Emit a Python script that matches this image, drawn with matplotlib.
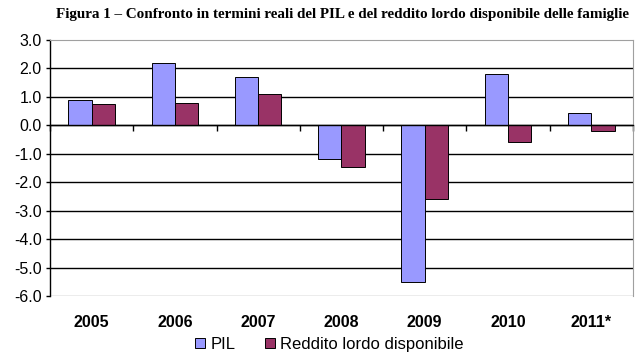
import numpy as np
import matplotlib
matplotlib.use("Agg")
import matplotlib.pyplot as plt
from matplotlib.patches import Patch

years = ["2005", "2006", "2007", "2008", "2009", "2010", "2011*"]
pil = [0.9, 2.2, 1.7, -1.2, -5.5, 1.8, 0.43]
reddito = [0.75, 0.8, 1.1, -1.45, -2.6, -0.6, -0.2]
y_ticks = [3, 2, 1, 0, -1, -2, -3, -4, -5, -6]

fig = plt.figure(figsize=(6.4, 3.57), dpi=100)
ax = fig.add_axes([0.078, 0.171, 0.911, 0.717])

x = np.arange(len(years))
w = 0.28
ax.bar(x - w / 2, pil, w, color="#9999FF", edgecolor="black", linewidth=0.7, zorder=3)
ax.bar(x + w / 2, reddito, w, color="#993366", edgecolor="black", linewidth=0.7, zorder=3)

ax.set_xlim(-0.5, len(years) - 0.5)
ax.set_ylim(-6, 3)
ax.set_yticks(y_ticks)
ax.set_yticklabels([f"{v:.1f}" for v in y_ticks], fontsize=11.5, family="Liberation Sans")
ax.tick_params(axis="y", direction="out", length=3, width=1, pad=3)

# horizontal grid
for v in y_ticks[1:-1]:
    ax.axhline(v, color="black", linewidth=1, zorder=1)

# x axis at zero with boundary ticks
ax.spines["bottom"].set_position(("data", 0))
ax.spines["bottom"].set_linewidth(1)
ax.spines["bottom"].set_zorder(4)
ax.set_xticks(np.arange(len(years) + 1) - 0.5)
ax.set_xticklabels([])
ax.tick_params(axis="x", direction="out", length=4, width=1)
ax.spines["left"].set_linewidth(1)
for s in ["top", "right"]:
    ax.spines[s].set_color("#a0a0a0")
# plot-area border at bottom
ax.axhline(-6, color="#a0a0a0", linewidth=1, zorder=1)

for i, lab in enumerate(years):
    ax.text(i, -6.95, lab, ha="center", va="center", fontsize=11.5,
            fontweight="bold", family="Liberation Sans")

fig.text(0.535, 0.958, "Figura 1 \u2013 Confronto in termini reali del PIL e del reddito lordo disponibile delle famiglie",
         ha="center", va="center", fontsize=10.9, fontweight="bold", family="Liberation Serif")

handles = [Patch(facecolor="#9999FF", edgecolor="black", linewidth=0.7),
           Patch(facecolor="#993366", edgecolor="black", linewidth=0.7)]
fig.legend(handles, ["PIL", "Reddito lordo disponibile"], loc="center",
           bbox_to_anchor=(0.515, 0.035), ncol=2, frameon=False,
           prop={"family": "Liberation Sans", "size": 12},
           handlelength=0.6, handleheight=0.6, handletextpad=0.3, columnspacing=1.8)

fig.savefig("out.png", dpi=100)
